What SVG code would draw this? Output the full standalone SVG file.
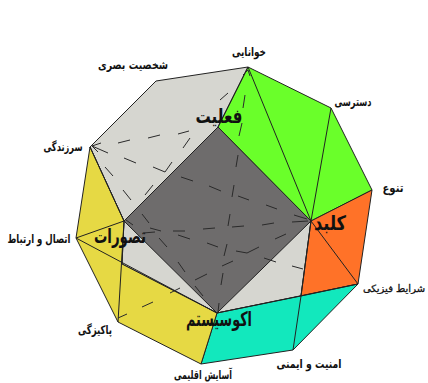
<svg xmlns="http://www.w3.org/2000/svg" width="428" height="383" viewBox="0 0 428 383">
<style>
.e{stroke:#222;stroke-width:1;fill:none;stroke-linejoin:round}
.f{stroke:#222;stroke-width:1;stroke-linejoin:round}
.d{stroke:#2a2a2a;stroke-width:1;fill:none}
text{font-family:"DejaVu Sans",sans-serif;fill:#111;text-anchor:middle;direction:rtl}
.s{font-size:12px;font-weight:bold}
.b{font-size:20px;font-weight:bold}
.n{font-size:10px;stroke:#111;stroke-width:.3}
</style>
<rect width="428" height="383" fill="#fff"/>
<g id="face-gray">
<polygon class="f" fill="#d6d6d0" points="156,81 248,67 311,221 301,296 217,313 122,264 124,221 90,147"/>
</g>
<g id="face-dark">
<polygon class="f" fill="#6e6c6c" points="218,127 311,221 217,313 124,221"/>
</g>
<g id="face-green">
<polygon class="f" fill="#6aff2a" points="248,67 331,108 372,190 311,221 218,127"/>
</g>
<g id="face-orange">
<polygon class="f" fill="#ff7228" points="372,190 358,284 301,296 311,221"/>
</g>
<g id="face-teal">
<polygon class="f" fill="#12e8bd" points="217,313 301,296 358,284 293,350 201,364"/>
</g>
<g id="face-yellow">
<polygon class="f" fill="#e6d944" points="90,147 124,221 122,264 217,313 201,364 118,322 76,238"/>
</g>
<g id="connectors">
<path class="e" d="M248,67L218,127M248,67L311,221M331,108L311,221M311,221L358,284M311,221L301,296L293,350M358,284L217,313M76,238L217,313M76,238L124,221M124,221L118,322M90,147L124,221"/>
<path class="d" d="M220,100L228,93M243,108L245,95M239,136L242,123M118,143L130,140M148,138L160,135M178,134L189,131M183,148L190,138M92,146L108,153M92,146L101,143M92,146L98,152M124,158L136,163M153,167L165,172L172,162M105,167L113,176M123,190L131,200M145,195L153,185M181,177L193,181M209,186L221,191M236,167L238,155M232,197L234,185M238,196L249,200M266,205L277,209M294,215L307,219M292,222L308,221M262,225L274,223M232,227L244,226M203,229L215,228M228,226L230,214M207,243L218,247M224,256L227,244M236,251L247,253L259,247M275,239L286,234M264,258L276,262M292,266L303,269M222,266L233,261M195,280L207,274M221,285L223,273M195,286L203,296M218,312L219,303M126,220L133,225M142,214L149,223M150,228L161,231M143,233L155,232M173,231L185,231M178,235L190,239M159,238L167,247M178,262L185,272M170,293L180,288M142,307L153,302M118,318L127,314M248,70L243,75M248,70L250,76"/>
</g>
<g id="labels">
<text class="s" x="249" y="56" textLength="34" lengthAdjust="spacingAndGlyphs">خوانایی</text>
<text class="s" x="133" y="69" textLength="70" lengthAdjust="spacingAndGlyphs">شخصیت بصری</text>
<text class="s" x="63" y="151" textLength="39" lengthAdjust="spacingAndGlyphs">سرزندگی</text>
<text class="s" x="353" y="106" textLength="37" lengthAdjust="spacingAndGlyphs">دسترسی</text>
<text class="s" x="393" y="192" textLength="21" lengthAdjust="spacingAndGlyphs">تنوع</text>
<text class="n" x="394" y="292">شرایط فیزیکی</text>
<text class="s" x="309" y="368" textLength="65" lengthAdjust="spacingAndGlyphs">امنیت و ایمنی</text>
<text class="s" x="203" y="379" textLength="58" lengthAdjust="spacingAndGlyphs">آسایش اقلیمی</text>
<text class="s" x="95" y="334" textLength="34" lengthAdjust="spacingAndGlyphs">پاکیزگی</text>
<text class="s" x="39" y="243" textLength="63" lengthAdjust="spacingAndGlyphs">اتصال و ارتباط</text>
<text class="b" x="219" y="123" textLength="47" lengthAdjust="spacingAndGlyphs">فعلیت</text>
<text class="b" x="330" y="230" textLength="32" lengthAdjust="spacingAndGlyphs">کلبد</text>
<text class="b" x="120" y="243" textLength="52" lengthAdjust="spacingAndGlyphs">تصورات</text>
<text class="b" x="219" y="326" textLength="66" lengthAdjust="spacingAndGlyphs">اکوسیستم</text>
</g>
</svg>
